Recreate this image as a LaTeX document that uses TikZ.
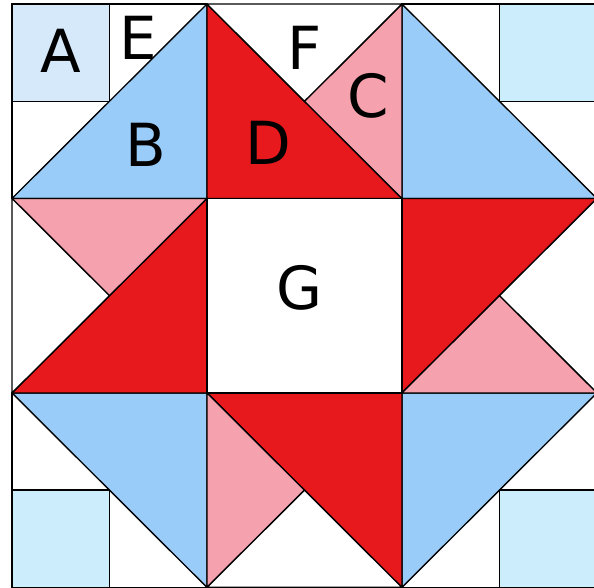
\documentclass[tikz,border=0pt]{standalone}
\usepackage{fontspec}
\setmainfont{DejaVu Sans}
\usepackage{xcolor}
\usepackage{tikz}
\definecolor{quiltRed}{HTML}{E8191C}
\definecolor{quiltPink}{HTML}{F6A1AE}
\definecolor{quiltBlue}{HTML}{99CCF8}
\definecolor{quiltLavender}{HTML}{D6E9FB}
\definecolor{quiltSky}{HTML}{CCEEFC}

\begin{document}
\begin{tikzpicture}[
    x=3cm, y=-2.992cm,
    patch/.style={draw=black, line width=0.6pt, line join=round},
    red/.style={patch, fill=quiltRed},
    pink/.style={patch, fill=quiltPink},
    blue/.style={patch, fill=quiltBlue},
    plain/.style={patch, fill=white},
    letter/.style={inner sep=0pt, font=\fontsize{26}{30}\selectfont},
]
\useasboundingbox (-0.0615,-0.0206) rectangle (2.985,3.0026);
\clip (-0.0615,-0.0206) rectangle (2.985,3.0026);
\fill[white] (-0.0615,-0.0206) rectangle (2.985,3.0026);

% Corner blocks
\draw[plain] (0,0) rectangle (1,1);
\draw[blue] (0,1) -- (1,0) -- (1,1) -- cycle;
\draw[patch, fill=quiltLavender] (0,0) rectangle (0.5,0.5);
\draw[plain] (2,0) rectangle (3,1);
\draw[blue] (2,0) -- (2,1) -- (3,1) -- cycle;
\draw[patch, fill=quiltSky] (2.5,0) rectangle (3,0.5);
\draw[plain] (0,2) rectangle (1,3);
\draw[blue] (0,2) -- (1,2) -- (1,3) -- cycle;
\draw[patch, fill=quiltSky] (0,2.5) rectangle (0.5,3);
\draw[plain] (2,2) rectangle (3,3);
\draw[blue] (2,2) -- (3,2) -- (2,3) -- cycle;
\draw[patch, fill=quiltSky] (2.5,2.5) rectangle (3,3);

% Top block
\draw[red] (1,0) -- (1,1) -- (2,1) -- cycle;
\draw[pink] (2,0) -- (2,1) -- (1.5,0.5) -- cycle;
\draw[plain] (1,0) -- (2,0) -- (1.5,0.5) -- cycle;

% Left block
\draw[red] (0,2) -- (1,1) -- (1,2) -- cycle;
\draw[pink] (0,1) -- (1,1) -- (0.5,1.5) -- cycle;
\draw[plain] (0,1) -- (0,2) -- (0.5,1.5) -- cycle;

% Right block
\draw[red] (2,1) -- (3,1) -- (2,2) -- cycle;
\draw[plain] (3,1) -- (3,2) -- (2.5,1.5) -- cycle;
\draw[pink] (2,2) -- (3,2) -- (2.5,1.5) -- cycle;

% Bottom block
\draw[red] (1,2) -- (2,2) -- (2,3) -- cycle;
\draw[pink] (1,2) -- (1,3) -- (1.5,2.5) -- cycle;
\draw[plain] (1,3) -- (2,3) -- (1.5,2.5) -- cycle;

% Centre
\draw[plain] (1,1) rectangle (2,2);

% Piece letters
\node[letter] (labelA) at (0.251,0.242) {A};
\node[letter] (labelE) at (0.646,0.172) {E};
\node[letter] (labelB) at (0.687,0.725) {B};
\node[letter] (labelF) at (1.503,0.226) {F};
\node[letter] (labelC) at (1.826,0.473) {C};
\node[letter] (labelD) at (1.313,0.715) {D};
\node[letter] (labelG) at (1.477,1.460) {G};
\end{tikzpicture}
\end{document}
